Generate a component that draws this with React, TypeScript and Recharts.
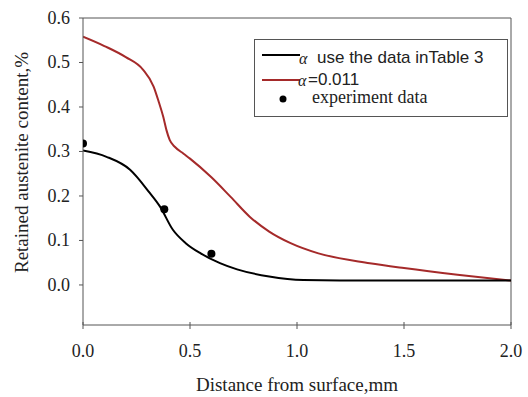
import {
  ComposedChart,
  Legend,
  Line,
  ReferenceLine,
  Scatter,
  XAxis,
  YAxis,
} from 'recharts';

// alpha from Table 3
const calcX = [0, 0.11, 0.22, 0.31, 0.36, 0.42, 0.48, 0.55, 0.64, 0.72, 0.87, 1.03, 1.2, 1.5, 1.75, 2.0];
const calcY = [0.302, 0.288, 0.259, 0.208, 0.176, 0.124, 0.094, 0.071, 0.049, 0.035, 0.019, 0.011, 0.01, 0.01, 0.01, 0.01];

// alpha = 0.011
const constX = [0, 0.1, 0.2, 0.28, 0.33, 0.355, 0.375, 0.39, 0.405, 0.43, 0.47, 0.5, 0.6, 0.69, 0.78, 0.87, 0.97, 1.1, 1.34, 1.5, 1.75, 2.0];
const constY = [0.558, 0.537, 0.512, 0.484, 0.446, 0.41, 0.378, 0.348, 0.326, 0.31, 0.295, 0.284, 0.242, 0.198, 0.153, 0.12, 0.094, 0.071, 0.049, 0.038, 0.023, 0.01];

// experiment data
const expX = [0, 0.38, 0.6];
const expY = [0.318, 0.17, 0.07];

const xTicks = [0, 0.5, 1.0, 1.5, 2.0];
const yTicks = [0, 0.1, 0.2, 0.3, 0.4, 0.5, 0.6];

const calcData = calcX.map((x, i) => ({ x, y: calcY[i] }));
const constData = constX.map((x, i) => ({ x, y: constY[i] }));
const expData = expX.map((x, i) => ({ x, y: expY[i] }));

const serif = "'Liberation Serif', 'Times New Roman', serif";
const sans = "'Liberation Sans', Arial, sans-serif";
const axisColor = '#555';
const textColor = '#222';
const redLine = '#a52a2a';

// plot frame edges (px)
const plotLeft = 83;
const plotBottom = 325;

function XTick({ x, payload }: any) {
  return (
    <g>
      <line x1={x} x2={x} y1={plotBottom - 3} y2={plotBottom} stroke={axisColor} />
      <text x={x} y={plotBottom + 32} textAnchor="middle" fontFamily={serif} fontSize={18} fill={textColor}>
        {Number(payload.value).toFixed(1)}
      </text>
    </g>
  );
}

function YTick({ y, payload }: any) {
  return (
    <text x={plotLeft - 13} y={y + 6} textAnchor="end" fontFamily={serif} fontSize={18} fill={textColor}>
      {Number(payload.value).toFixed(1)}
    </text>
  );
}

function LegendBox() {
  return (
    <div
      style={{
        width: 252,
        height: 76,
        border: `1px solid ${axisColor}`,
        background: '#fff',
        position: 'relative',
      }}
    >
      <svg width={252} height={76} style={{ position: 'absolute', left: 0, top: 0 }}>
        <line x1={7} x2={45} y1={15} y2={15} stroke="#000" strokeWidth={2} />
        <text x={44} y={24} fontFamily={serif} fontStyle="italic" fontSize={16} fill={textColor}>α</text>
        <text x={62} y={23} fontFamily={sans} fontSize={17} fill={textColor}>use the data inTable 3</text>
        <line x1={7} x2={45} y1={40} y2={40} stroke={redLine} strokeWidth={2} />
        <text x={43} y={46} fontFamily={serif} fontStyle="italic" fontSize={16} fill={textColor}>α</text>
        <text x={53} y={45} fontFamily={sans} fontSize={17} fill={textColor}>=0.011</text>
        <circle cx={28} cy={59} r={3.5} fill="#000" />
        <text x={57} y={63} fontFamily={serif} fontSize={18} fill={textColor}>experiment data</text>
      </svg>
    </div>
  );
}

export default function App() {
  return (
    <div style={{ position: 'absolute', left: 0, top: 0, background: '#fff' }}>
      <ComposedChart
        width={528}
        height={397}
        margin={{ top: 18, right: 17, bottom: 0, left: 23 }}
      >
        <XAxis
          type="number"
          dataKey="x"
          domain={[0, 2]}
          ticks={xTicks}
          height={72}
          tickSize={4}
          stroke={axisColor}
          tick={<XTick />}
          allowDataOverflow
          label={{
            content: ({ viewBox }: any) => (
              <text
                x={viewBox.x + viewBox.width / 2}
                y={391}
                textAnchor="middle"
                fontFamily={serif}
                fontSize={19}
                fill={textColor}
              >
                Distance from surface,mm
              </text>
            ),
          }}
        />
        <YAxis
          type="number"
          dataKey="y"
          domain={[-0.09, 0.6]}
          ticks={yTicks}
          width={60}
          tickSize={4}
          stroke={axisColor}
          tick={<YTick />}
          allowDataOverflow
          label={{
            content: ({ viewBox }: any) => {
              const cx = 28;
              const cy = viewBox.y + viewBox.height / 2 - 9;
              return (
                <text
                  x={cx}
                  y={cy}
                  transform={`rotate(-90 ${cx} ${cy})`}
                  textAnchor="middle"
                  fontFamily={serif}
                  fontSize={19}
                  fill={textColor}
                >
                  Retained austenite content,%
                </text>
              );
            },
          }}
        />
        <ReferenceLine y={0.6} stroke={axisColor} />
        <ReferenceLine x={2} stroke={axisColor} />
        <Line
          data={constData}
          dataKey="y"
          type="monotone"
          stroke={redLine}
          strokeWidth={2}
          dot={false}
          isAnimationActive={false}
        />
        <Line
          data={calcData}
          dataKey="y"
          type="monotone"
          stroke="#000"
          strokeWidth={2}
          dot={false}
          isAnimationActive={false}
        />
        <Scatter
          data={expData}
          dataKey="y"
          fill="#000"
          isAnimationActive={false}
          shape={(p: any) => <circle cx={p.cx} cy={p.cy} r={4} fill="#000" />}
        />
        <Legend
          layout="horizontal"
          verticalAlign="middle"
          align="center"
          content={() => <LegendBox />}
          wrapperStyle={{ position: 'absolute', left: 254, top: 39, width: 254, height: 78 }}
        />
      </ComposedChart>
    </div>
  );
}
